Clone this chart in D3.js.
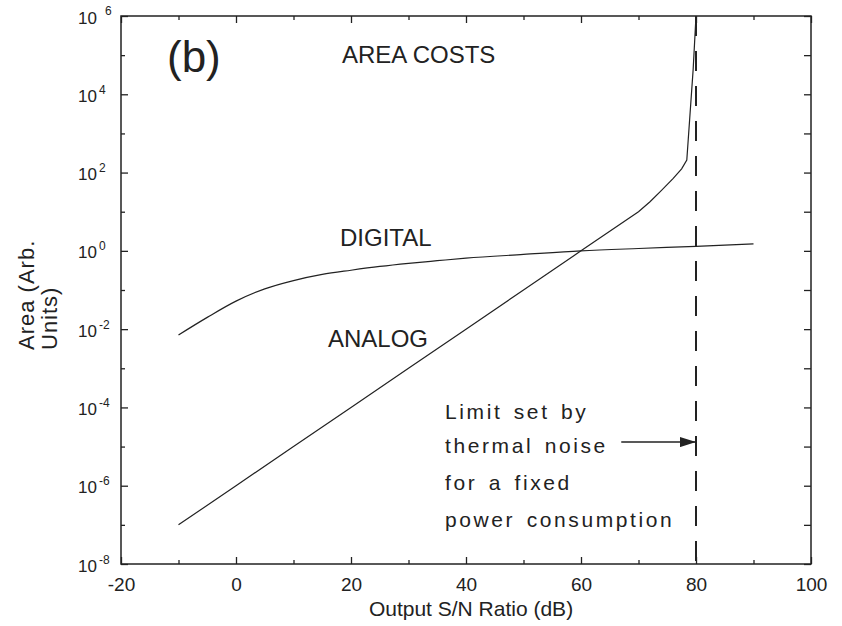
<!DOCTYPE html>
<html>
<head>
<meta charset="utf-8">
<script src="https://cdn.jsdelivr.net/npm/d3@7"></script>
<style>
  body { margin: 0; background: #fff; }
  text { font-family: "Liberation Sans", Arial, Helvetica, sans-serif; fill: #222; }
</style>
</head>
<body>
<div id="app"></div>
<script>
// data
const digitalDb = [-10, -5, 0, 5, 10, 15, 20, 25, 30, 35, 40, 50, 60, 70, 80, 90];
const digitalArea = [0.0071, 0.020, 0.052, 0.107, 0.174, 0.25, 0.32, 0.40, 0.48, 0.56, 0.65, 0.81, 1.0, 1.15, 1.30, 1.50];
const analogDb = [-10, 0, 10, 20, 30, 40, 50, 60, 70, 72, 74, 76, 77.5, 78.4, 79.5, 80];
const analogArea = [1e-7, 1e-6, 1e-5, 1e-4, 1e-3, 1e-2, 1e-1, 1, 10, 18, 35, 70, 125, 210, 4.2e4, 1e6];
const limitDb = 80;
const arrowDb = [67, 80];
const arrowArea = 1.3e-5;
const xMajor = [-20, 0, 20, 40, 60, 80, 100];
const xMinor = [-10, 10, 30, 50, 70, 90];
const yExpMajor = [6, 4, 2, 0, -2, -4, -6, -8];
const yExpMinor = [5, 3, 1, -1, -3, -5, -7];
const noteLines = ['Limit set by', 'thermal noise', 'for a fixed', 'power consumption'];

const margin = { left: 121, top: 16, right: 31, bottom: 62 };
const bounds = {
    width: 842 - margin.left - margin.right,
    height: 626 - margin.top - margin.bottom
};

const root = d3.select('#app')
    .append('svg')
    .attr('width', 842)
    .attr('height', 626)
const svg = root.append('g')
    .attr('transform', `translate(${margin.left},${margin.top})`)

const xScale = d3.scaleLinear().domain([-20, 100]).range([0, bounds.width])
const yScale = d3.scaleLog().domain([1e-8, 1e6]).range([bounds.height, 0])

const ink = '#222'

// axes, ticks point inward
function styleAxis(g) {
    g.select('.domain').remove()
    g.selectAll('.tick line').attr('stroke', ink).attr('stroke-width', 1.3)
}
const majors = yExpMajor.map(e => Math.pow(10, e))
const minors = yExpMinor.map(e => Math.pow(10, e))

svg.append('g').attr('transform', `translate(0,${bounds.height})`)
    .call(d3.axisBottom(xScale).tickValues(xMajor).tickSize(-7).tickPadding(14).tickFormat(d => String(d)))
    .call(styleAxis)
    .call(g => g.selectAll('.tick text').attr('font-size', 19).attr('fill', ink))
svg.append('g').attr('transform', `translate(0,${bounds.height})`)
    .call(d3.axisBottom(xScale).tickValues(xMinor).tickSize(-4).tickFormat(''))
    .call(styleAxis)
svg.append('g')
    .call(d3.axisTop(xScale).tickValues(xMajor).tickSize(-7).tickFormat(''))
    .call(styleAxis)
svg.append('g')
    .call(d3.axisTop(xScale).tickValues(xMinor).tickSize(-4).tickFormat(''))
    .call(styleAxis)

svg.append('g')
    .call(d3.axisLeft(yScale).tickValues(majors).tickSize(-7).tickFormat(''))
    .call(styleAxis)
svg.append('g')
    .call(d3.axisLeft(yScale).tickValues(minors).tickSize(-4).tickFormat(''))
    .call(styleAxis)
svg.append('g').attr('transform', `translate(${bounds.width},0)`)
    .call(d3.axisRight(yScale).tickValues(majors.concat(minors)).tickSize(-7).tickFormat(''))
    .call(styleAxis)

// y tick labels 10^n
const yLabels = svg.append('g').selectAll('text')
    .data(yExpMajor)
    .join('text')
    .attr('x', -43)
    .attr('y', d => yScale(Math.pow(10, d)) + 7.5)
    .attr('font-size', 17)
yLabels.append('tspan').text('10')
yLabels.append('tspan')
    .attr('font-size', 12)
    .attr('dx', d => d === 6 ? 8 : 2)
    .attr('dy', d => d === 6 ? -9 : -8)
    .text(d => d < 0 ? '-' + Math.abs(d) : d)

// frame
svg.append('rect')
    .attr('width', bounds.width)
    .attr('height', bounds.height)
    .attr('fill', 'none')
    .attr('stroke', ink)
    .attr('stroke-width', 1.5)

// curves
const digital = digitalDb.map((d, i) => ({ x: d, y: digitalArea[i] }))
const analog = analogDb.map((d, i) => ({ x: d, y: analogArea[i] }))

svg.append('path')
    .datum(digital)
    .attr('fill', 'none')
    .attr('stroke', ink)
    .attr('stroke-width', 1.2)
    .attr('d', d3.line().x(d => xScale(d.x)).y(d => yScale(d.y)).curve(d3.curveMonotoneX))
svg.append('path')
    .datum(analog)
    .attr('fill', 'none')
    .attr('stroke', ink)
    .attr('stroke-width', 1.2)
    .attr('d', d3.line().x(d => xScale(d.x)).y(d => yScale(d.y)))

// thermal noise limit
svg.append('line')
    .attr('x1', xScale(limitDb)).attr('x2', xScale(limitDb))
    .attr('y1', 0).attr('y2', bounds.height)
    .attr('stroke', ink)
    .attr('stroke-width', 2)
    .attr('stroke-dasharray', '20,15')

// arrow
root.append('defs').append('marker')
    .attr('id', 'head')
    .attr('viewBox', '0 0 16 10')
    .attr('refX', 16).attr('refY', 5)
    .attr('markerWidth', 16).attr('markerHeight', 10)
    .attr('markerUnits', 'userSpaceOnUse')
    .attr('orient', 'auto')
    .append('path').attr('d', 'M0,0L16,5L0,10Z').attr('fill', ink)
svg.append('line')
    .attr('x1', xScale(arrowDb[0])).attr('x2', xScale(arrowDb[1]))
    .attr('y1', yScale(arrowArea)).attr('y2', yScale(arrowArea))
    .attr('stroke', ink)
    .attr('stroke-width', 1.5)
    .attr('marker-end', 'url(#head)')

// texts
root.append('text').attr('x', 167).attr('y', 72).attr('font-size', 44).text('(b)')
root.append('text').attr('x', 342).attr('y', 63).attr('font-size', 24).text('AREA COSTS')
root.append('text').attr('x', 340).attr('y', 246).attr('font-size', 24).text('DIGITAL')
root.append('text').attr('x', 328).attr('y', 347).attr('font-size', 24).text('ANALOG')

const noteY = [419, 453, 490, 527]
root.append('g').selectAll('text')
    .data(noteLines)
    .join('text')
    .attr('x', 445)
    .attr('y', (d, i) => noteY[i])
    .attr('font-size', 21)
    .attr('letter-spacing', 2.6)
    .attr('word-spacing', 3)
    .text(d => d)

root.append('text')
    .attr('x', 471).attr('y', 616)
    .attr('text-anchor', 'middle')
    .attr('font-size', 21)
    .text('Output S/N Ratio (dB)')

const yTitle = root.append('text')
    .attr('transform', 'translate(34,350) rotate(-90)')
    .attr('font-size', 22)
    .attr('letter-spacing', 1)
yTitle.append('tspan').attr('x', 0).attr('y', 0).text('Area (Arb.')
yTitle.append('tspan').attr('x', 0).attr('y', 23).text('Units)')
</script>
</body>
</html>
